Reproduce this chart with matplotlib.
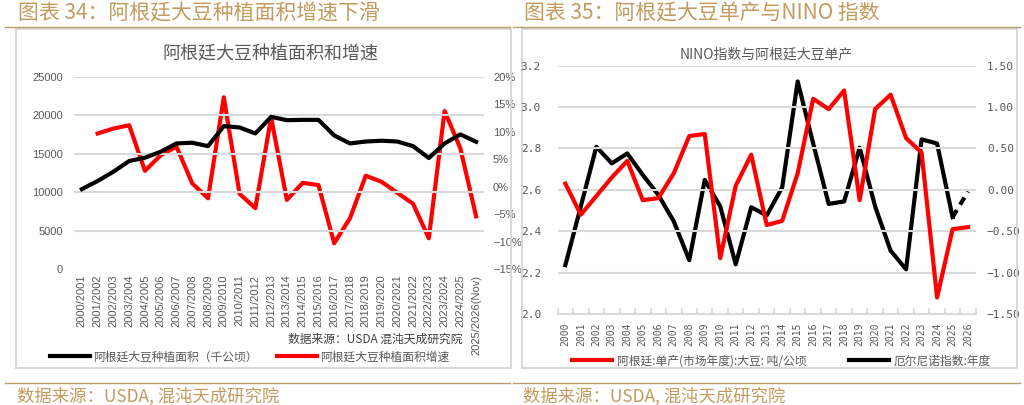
import numpy as np
import matplotlib
matplotlib.use("Agg")
import matplotlib.pyplot as plt
from matplotlib.patches import Rectangle
from matplotlib.lines import Line2D
from matplotlib.ticker import FuncFormatter, MultipleLocator, FixedLocator

# ---------------- data ----------------
seasons = ["2000/2001", "2001/2002", "2002/2003", "2003/2004", "2004/2005", "2005/2006",
           "2006/2007", "2007/2008", "2008/2009", "2009/2010", "2010/2011", "2011/2012",
           "2012/2013", "2013/2014", "2014/2015", "2015/2016", "2016/2017", "2017/2018",
           "2018/2019", "2019/2020", "2020/2021", "2021/2022", "2022/2023", "2023/2024",
           "2024/2025", "2025/2026(Nov)"]
area = [10400, 11460, 12670, 14060, 14490, 15270, 16350, 16440, 16000, 18600, 18430, 17650,
        19810, 19380, 19420, 19420, 17390, 16350, 16600, 16700, 16600, 16000, 14450, 16350,
        17520, 16570]
growth = [np.nan, 9.7, 10.6, 11.2, 2.9, 5.75, 7.3, 0.6, -2.1, 16.3, -1.3, -3.9, 12.6, -2.4,
          0.7, 0.3, -10.3, -5.75, 2.0, 0.9, -1.1, -3.1, -9.4, 13.8, 7.0, -5.4]

years = [str(y) for y in range(2000, 2027)]
yield_t = [2.63, 2.48, 2.57, 2.66, 2.74, 2.55, 2.56, 2.68, 2.86, 2.87, 2.27, 2.62, 2.77, 2.43,
           2.45, 2.68, 3.04, 2.99, 3.08, 2.55, 2.99, 3.06, 2.85, 2.78, 2.08, 2.41, 2.42]
nino = [-0.91, -0.20, 0.52, 0.32, 0.44, 0.18, -0.06, -0.38, -0.85, 0.12, -0.20, -0.90, -0.21,
        -0.31, 0.03, 1.31, 0.56, -0.17, -0.14, 0.51, -0.20, -0.735, -0.96, 0.61, 0.56, -0.33,
        -0.02]

# ---------------- style ----------------
CJK = ['Noto Sans CJK SC', 'DejaVu Sans']
LAT = ['Liberation Sans', 'DejaVu Sans']
MONO = ['DejaVu Sans Mono']
GOLD_T = '#C39B5E'
GOLD_L = '#B99C6B'
GRID = '#D9D9D9'
TXT = '#595959'
W, H = 1024, 405

def rect(x0, y0, x1, y1):
    return [x0 / W, 1 - y1 / H, (x1 - x0) / W, (y1 - y0) / H]

fig = plt.figure(figsize=(W / 100, H / 100), dpi=100)
fig.patch.set_facecolor('white')

# headers / footers / frames
for (tx, lx0, lx1, bx0, bx1, title) in [
        (18, 5, 510, 16, 511, "图表 34：阿根廷大豆种植面积增速下滑"),
        (524, 513, 1020, 522, 1017, "图表 35：阿根廷大豆单产与NINO 指数")]:
    fig.text(tx / W, 1 - 13 / H, title, family=CJK, fontsize=15, color=GOLD_T, va='center', ha='left')
    fig.add_artist(Line2D([lx0 / W, lx1 / W], [1 - 26.5 / H] * 2, color=GOLD_L, lw=1.0))
    fig.add_artist(Line2D([lx0 / W, lx1 / W], [1 - 383 / H] * 2, color=GOLD_L, lw=1.0))
    fig.add_artist(Rectangle((bx0 / W, 1 - 368 / H), (bx1 - bx0) / W, (368 - 29) / H,
                             transform=fig.transFigure, fill=False, edgecolor='#D6D6D6', lw=1.3))
    fig.text((tx - 1) / W, 1 - 396 / H, "数据来源：USDA, 混沌天成研究院", family=CJK, fontsize=12.5,
             color=GOLD_T, va='center', ha='left')

# ---------------- left chart ----------------
x1 = np.arange(len(seasons))
ax1 = fig.add_axes(rect(74, 77, 484, 269))
ax2 = ax1.twinx()
ax1.set_zorder(ax2.get_zorder() + 1)
ax1.patch.set_visible(False)

ax2.plot(x1, growth, color='#FF0000', lw=3.0, zorder=3)
ax1.plot(x1, area, color='black', lw=3.0, zorder=3)
ax1.set_xlim(-0.5, len(seasons) - 0.5)
ax1.set_ylim(0, 25000)
ax1.yaxis.set_major_locator(MultipleLocator(5000))
ax2.set_ylim(-15, 20)
ax2.yaxis.set_major_locator(MultipleLocator(5))
ax2.yaxis.set_major_formatter(FuncFormatter(lambda v, p: f"{v:.0f}%".replace('-', '\u2212')))
ax1.set_xticks(x1)
ax1.set_xticklabels(seasons, rotation=90)
for a in (ax1, ax2):
    for s in a.spines.values():
        s.set_visible(False)
    a.tick_params(length=0, labelfontfamily=LAT, labelsize=8, labelcolor=TXT)
ax1.tick_params(axis='y', pad=8)
ax2.tick_params(axis='y', pad=6.5)
ax1.tick_params(axis='x', pad=4)
for v in range(5000, 25001, 5000):
    ax1.axhline(v, color=GRID, lw=1.5, zorder=0)
fig.text(271 / W, 1 - 55 / H, "阿根廷大豆种植面积和增速", family=CJK, fontsize=13, color=TXT,
         ha='center', va='center')

fig.text(463 / W, 1 - 339 / H, "数据来源：USDA 混沌天成研究院", family=CJK, fontsize=8.5,
         color='#404040', ha='right', va='center')

for (hx, col, lab) in [(50, 'black', "阿根廷大豆种植面积（千公顷）"), (277, '#FF0000', "阿根廷大豆种植面积增速")]:
    h = Line2D([], [], color=col, lw=3.0)
    lg = fig.legend([h], [lab], loc='center left', bbox_to_anchor=(hx / W, 1 - 357 / H),
                    frameon=False, borderpad=0, borderaxespad=0, handlelength=3.4,
                    handletextpad=0.25, prop={'family': CJK, 'size': 8.5})
    for t in lg.get_texts():
        t.set_color(TXT)

# ---------------- right chart ----------------
x2 = np.arange(len(years))
ax3 = fig.add_axes(rect(557.6, 65.7, 975.8, 314))
ax4 = ax3.twinx()
ax3.set_zorder(ax4.get_zorder() + 1)
ax3.patch.set_visible(False)
ax3.plot(x2, yield_t, color='#FF0000', lw=3.0, zorder=3)
ax4.plot(x2[:-1], nino[:-1], color='black', lw=3.0, zorder=3)
ax4.plot(x2[-2:], nino[-2:], color='black', lw=3.0, ls=(0, (2, 1.5)), zorder=3)
ax3.set_xlim(-0.5, len(years) - 0.5)
ax3.set_ylim(2.0, 3.2)
ax3.yaxis.set_major_locator(MultipleLocator(0.2))
ax3.yaxis.set_major_formatter(FuncFormatter(lambda v, p: f"{v:.1f}"))
ax4.set_ylim(-1.5, 1.5)
ax4.yaxis.set_major_locator(MultipleLocator(0.5))
ax4.yaxis.set_major_formatter(FuncFormatter(lambda v, p: f"{v:.2f}".replace('-', '\u2212')))
ax3.set_xticks(x2)
ax3.set_xticklabels(years, rotation=90)
ax3.xaxis.set_minor_locator(FixedLocator(np.arange(-0.5, len(years), 1.0)))
for a in (ax3, ax4):
    for s in a.spines.values():
        s.set_visible(False)
    a.tick_params(length=0, labelfontfamily=MONO, labelsize=8, labelcolor=TXT)
ax3.tick_params(axis='x', labelsize=7)
ax3.spines['bottom'].set_visible(True)
ax3.spines['bottom'].set_color(GRID)
ax3.spines['bottom'].set_linewidth(1.5)
ax3.tick_params(axis='x', which='minor', length=4, direction='in', color=GRID, width=1.2)
ax3.tick_params(axis='y', pad=12)
ax4.tick_params(axis='y', pad=8)
ax3.tick_params(axis='x', which='major', pad=6)
for v in np.arange(2.2, 3.21, 0.2):
    ax3.axhline(v, color=GRID, lw=1.5, zorder=0)
ax3.set_title("NINO指数与阿根廷大豆单产", family=CJK, fontsize=10, color=TXT, pad=5)

for (hx, col, lab) in [(572, '#FF0000', "阿根廷:单产(市场年度):大豆: 吨/公顷"), (849, 'black', "厄尔尼诺指数:年度")]:
    h = Line2D([], [], color=col, lw=3.0)
    lg = fig.legend([h], [lab], loc='center left', bbox_to_anchor=(hx / W, 1 - 361 / H),
                    frameon=False, borderpad=0, borderaxespad=0, handlelength=3.4,
                    handletextpad=0.4, prop={'family': CJK, 'size': 8.5})
    for t in lg.get_texts():
        t.set_color(TXT)

fig.savefig("out.png", dpi=100, facecolor='white')
